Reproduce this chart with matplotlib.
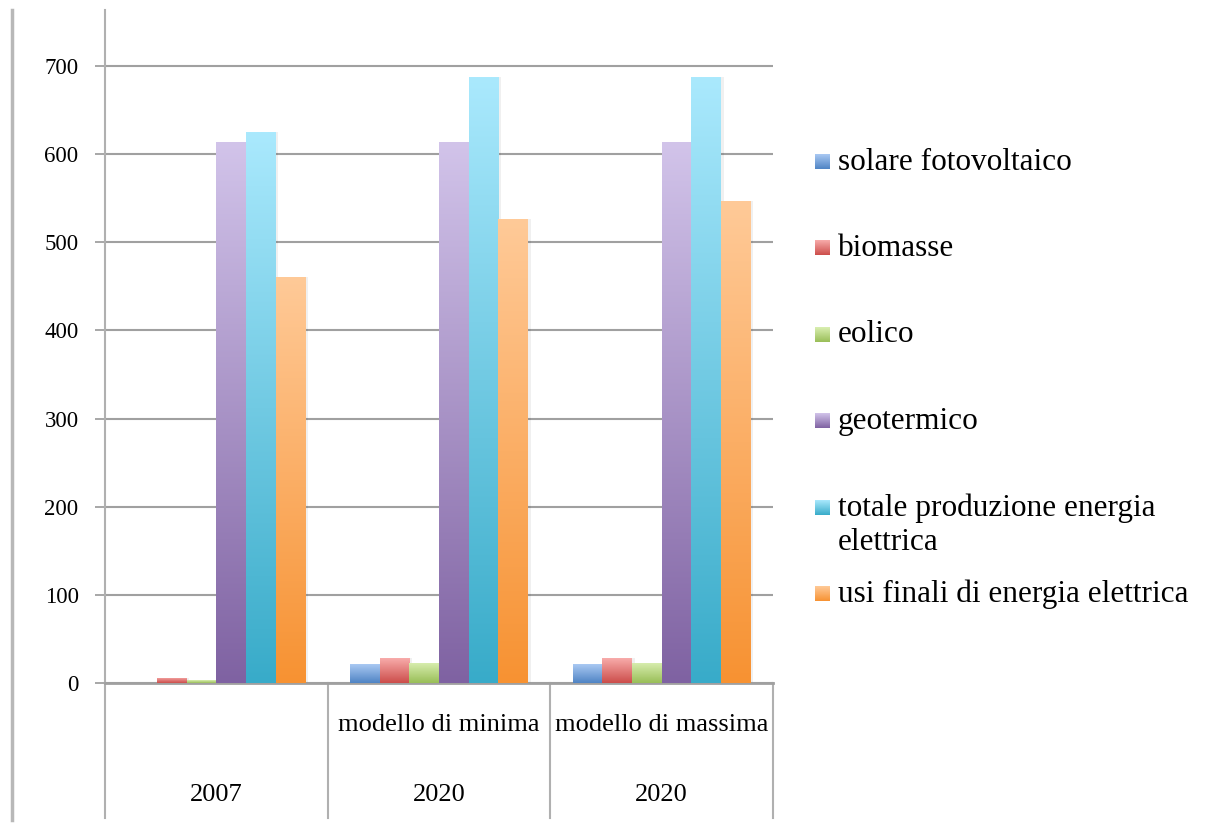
import numpy as np
import matplotlib
matplotlib.use("Agg")
from matplotlib import pyplot as plt
from matplotlib.colors import LinearSegmentedColormap
from matplotlib.lines import Line2D

plt.rcParams['font.family'] = ['Liberation Serif', 'DejaVu Serif']

# data
anni = ["2007", "2020", "2020"]
modelli = ["", "modello di minima", "modello di massima"]
serie = ["solare fotovoltaico", "biomasse", "eolico", "geotermico",
         "totale produzione energia\nelettrica", "usi finali di energia elettrica"]
solare = [0, 21, 21]
biomasse = [6, 28, 28]
eolico = [3, 23, 23]
geotermico = [614, 614, 614]
totale = [625, 687, 687]
usi_finali = [461, 526, 547]
valori = [solare, biomasse, eolico, geotermico, totale, usi_finali]

# top (light) / bottom (dark) colours of each gradient
colori = [("#aac9f3", "#4f84c4"),
          ("#f8acab", "#cc4d4a"),
          ("#daefb2", "#99be57"),
          ("#d2c4ea", "#7f62a2"),
          ("#aae9fd", "#38abc9"),
          ("#ffca98", "#f79232")]
cmaps = [LinearSegmentedColormap.from_list("c%d" % i, [b, t]) for i, (t, b) in enumerate(colori)]
grad = np.linspace(0, 1, 256).reshape(-1, 1)

fig = plt.figure(figsize=(12.14, 8.25), dpi=100)
ax = fig.add_axes([105 / 1214, 1 - 683 / 825, (773 - 105) / 1214, (683 - 10) / 825])

n = len(serie)
gap = 1.5
w = 1 / (n + gap)
x = np.arange(len(anni))
ymax = (683 - 10) / (617 / 700)

for i in range(n):
    pos = x - 0.5 + w * (gap / 2 + i + 0.5)
    bars = ax.bar(pos, valori[i], width=w, facecolor="none", edgecolor="none", zorder=3)
    for r in bars:
        if r.get_height() <= 0:
            continue
        x0, h = r.get_x(), r.get_height()
        # faint shadow at the right of the bar
        ax.bar(x0 + w / 2 + 0.012, h, width=w, color="#000000", alpha=0.06, zorder=2.5)
        im = ax.imshow(grad, extent=[x0, x0 + w, 0, h], origin="lower", aspect="auto",
                       cmap=cmaps[i], zorder=3, interpolation="bilinear")
        im.set_clip_path(r)

ax.set_xlim(-0.5, len(anni) - 0.5)
ax.set_ylim(0, ymax)
ax.set_yticks(np.arange(0, 701, 100))
ax.set_xticks([])
ax.yaxis.grid(True, color="#a0a0a0", linewidth=1.5, zorder=0)
ax.set_axisbelow(True)
for s in ["top", "right"]:
    ax.spines[s].set_visible(False)
ax.spines["left"].set_color("#b0b0b0")
ax.spines["left"].set_linewidth(1.5)
ax.spines["bottom"].set_color("#a0a0a0")
ax.spines["bottom"].set_linewidth(2)
ax.tick_params(axis="y", length=7, width=1.3, color="#a0a0a0", pad=12, labelsize=16.5)

# category axis below the plot
tr = ax.get_xaxis_transform()
low = -(818 - 683) / (683 - 10)
for b in np.arange(-0.5, len(anni), 1.0):
    ax.add_line(Line2D([b, b], [low, 0], transform=tr, color="#b0b0b0", lw=1.5, clip_on=False))
for i in range(len(anni)):
    ax.text(x[i], low * 0.31, modelli[i], transform=tr, ha="center", va="center", fontsize=19)
    ax.text(x[i], low * 0.83, anni[i], transform=tr, ha="center", va="center", fontsize=19)

# overlay axes in pixel units for the legend and the outer border
ov = fig.add_axes([0, 0, 1, 1])
ov.set_xlim(0, 1214)
ov.set_ylim(825, 0)
ov.axis("off")
ov.add_line(Line2D([12, 12], [10, 820], color="#b8b8b8", lw=2.5))

ys = [162, 248, 335, 421, 508, 594]
for i in range(n):
    y = ys[i]
    ov.imshow(grad, extent=[815, 830, y + 7, y - 8], origin="lower", aspect="auto",
              cmap=cmaps[i], interpolation="bilinear", zorder=3)
    for k, riga in enumerate(serie[i].split("\n")):
        ov.text(838, y + 35 * k, riga, ha="left", va="center", fontsize=22.5)
ov.set_xlim(0, 1214)
ov.set_ylim(825, 0)

fig.savefig("out.png", dpi=100)
